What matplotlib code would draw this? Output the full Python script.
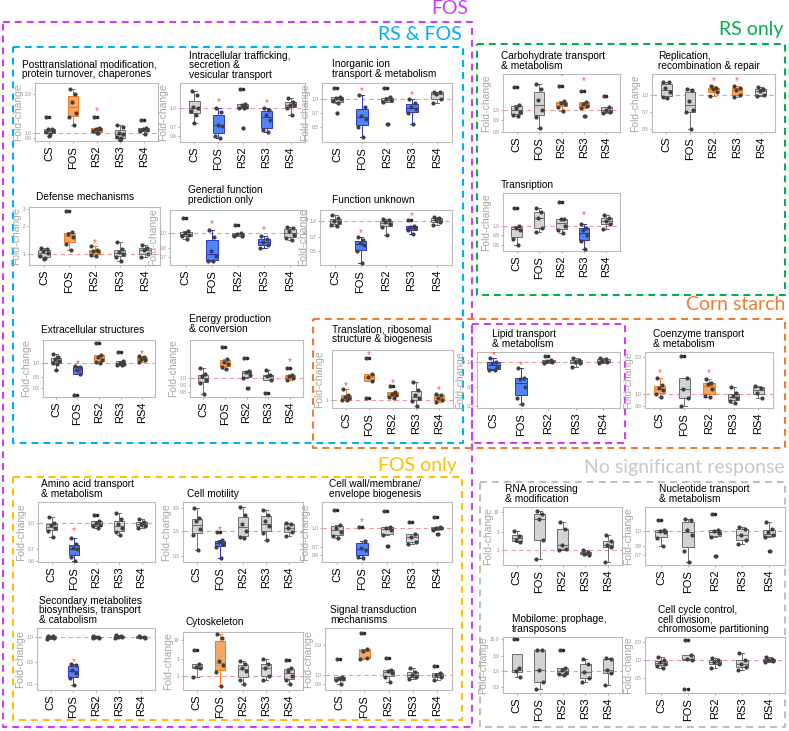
import matplotlib.pyplot as plt
from matplotlib.ticker import NullLocator

plt.rcParams['font.family'] = ['Liberation Sans', 'DejaVu Sans']

W, H = 789, 731
groups = ["CS", "FOS", "RS2", "RS3", "RS4"]

# fold-change per group, order: CS, FOS, RS2, RS3, RS4
posttrans = [[1.32, 1.07, 1.06, 1.04, 1.02, 0.98, 0.94], [2.22, 2.0, 1.75, 1.44, 1.32, 1.14],
             [1.34, 1.09, 1.07, 1.06, 1.03, 1.0, 0.99], [1.14, 1.10, 1.0, 0.97, 0.93, 0.90, 0.88],
             [1.25, 1.09, 1.07, 1.05, 1.03, 0.98]]
intracellular = [[1.35, 1.26, 1.02, 1.0, 0.95, 0.87, 0.76], [1.0, 0.92, 0.73, 0.72, 0.60, 0.58],
                 [1.42, 1.08, 1.05, 1.02, 1.0, 0.99, 0.69], [0.99, 0.96, 0.88, 0.80, 0.66, 0.645],
                 [1.19, 1.12, 1.06, 1.05, 0.99, 0.87]]
inorganic = [[1.31, 1.06, 1.03, 0.99, 0.96, 0.91, 0.70], [1.1, 0.81, 0.66, 0.60, 0.5, 0.39],
             [1.31, 1.04, 1.0, 0.97, 0.92, 0.54], [1.0, 0.9, 0.82, 0.77, 0.70, 0.54],
             [1.2, 1.18, 1.12, 1.0, 0.9]]
defense = [[1.15, 1.12, 1.07, 1.02, 0.95, 0.9, 0.88], [2.85, 1.7, 1.62, 1.5, 1.27, 1.1],
           [1.2, 1.09, 1.08, 1.07, 0.97, 0.96], [1.35, 1.13, 1.05, 1.0, 0.92, 0.83],
           [1.25, 1.15, 1.1, 1.0, 0.92]]
general = [[1.25, 1.03, 1.0, 0.97, 0.95, 0.91], [1.04, 0.94, 0.76, 0.71, 0.66, 0.655],
           [1.13, 1.0, 0.98, 0.96, 0.95], [0.95, 0.91, 0.88, 0.84, 0.8],
           [1.1, 1.07, 1.03, 0.97, 0.93, 0.9]]
unknown = [[1.17, 1.08, 1.02, 0.98, 0.92, 0.9], [0.69, 0.65, 0.6, 0.57, 0.5, 0.38],
           [1.06, 1.03, 0.98, 0.94, 0.88, 0.73], [1.03, 0.9, 0.87, 0.85, 0.82, 0.74],
           [1.1, 1.08, 1.04, 0.98, 0.93]]
extracellular = [[1.49, 1.33, 1.2, 1.1, 1.0, 0.94, 0.71], [0.85, 0.8, 0.7, 0.58, 0.22],
                 [2.5, 1.45, 1.3, 1.15, 1.05, 0.97], [1.69, 1.1, 1.0, 0.95, 0.9, 0.88],
                 [1.35, 1.3, 1.2, 1.12, 1.05]]
energy = [[1.17, 1.07, 1.03, 0.97, 0.93, 0.78], [1.65, 1.36, 1.3, 1.25, 1.2, 1.15],
          [1.37, 1.12, 1.1, 1.06, 1.01, 0.855], [1.14, 1.05, 1.03, 0.98, 0.79],
          [1.17, 1.06, 1.03, 1.0, 0.98]]
translation = [[1.36, 1.17, 1.1, 1.05, 1.0, 1.0], [3.25, 2.1, 1.9, 1.7, 1.05],
               [1.47, 1.27, 1.2, 1.15, 1.1, 1.05], [1.65, 1.33, 1.15, 1.05, 0.98, 0.85],
               [1.2, 1.15, 1.07, 1.0, 0.95]]
carbohydrate = [[1.25, 1.05, 1.02, 0.98, 0.95, 0.94], [1.29, 1.23, 1.1, 1.0, 0.93, 0.83],
                [1.27, 1.09, 1.07, 1.06, 1.03, 0.99], [1.21, 1.08, 1.06, 1.04, 1.02, 0.94],
                [1.15, 1.03, 1.0, 0.98, 0.97]]
replication = [[1.3, 1.28, 1.15, 1.05, 0.96, 0.94], [1.12, 1.11, 0.88, 0.73, 0.70, 0.5],
               [1.19, 1.15, 1.12, 1.05, 0.98], [1.2, 1.15, 1.1, 1.0, 0.96],
               [1.16, 1.12, 1.08, 1.0, 0.98]]
transcription = [[1.23, 1.0, 0.98, 0.96, 0.86, 0.8], [1.23, 1.18, 1.1, 0.98, 0.93],
                 [1.32, 1.09, 1.08, 1.0, 0.95, 0.92], [1.03, 0.98, 0.95, 0.9, 0.84, 0.77],
                 [1.14, 1.1, 1.06, 1.02, 0.97]]
lipid = [[1.1, 1.0, 0.97, 0.88, 0.8, 0.79], [0.84, 0.64, 0.62, 0.5, 0.37, 0.32],
         [1.17, 1.05, 1.02, 0.99, 0.97], [1.1, 1.05, 1.0, 0.97, 0.87],
         [1.1, 1.07, 1.03, 1.0, 0.97]]
coenzyme = [[1.34, 1.18, 1.12, 1.08, 1.0, 0.95], [2.03, 1.34, 1.1, 0.93, 0.8],
            [1.33, 1.23, 1.2, 1.1, 0.96, 0.94], [1.14, 1.01, 0.96, 0.92, 0.88, 0.84],
            [1.16, 1.12, 1.02, 0.92]]
amino_acid = [[1.08, 1.0, 0.97, 0.93, 0.9, 0.83], [0.82, 0.75, 0.71, 0.7, 0.63, 0.6],
              [1.11, 1.03, 1.0, 0.98, 0.96, 0.93], [1.14, 1.05, 0.99, 0.94, 0.89, 0.85],
              [1.06, 1.02, 0.99, 0.96, 0.93]]
motility = [[3.0, 1.9, 1.6, 1.1, 0.85, 0.41], [0.97, 0.65, 0.58, 0.55, 0.46, 0.27],
            [3.15, 2.2, 1.4, 1.0, 0.75, 0.73], [2.75, 2.2, 1.6, 1.3, 0.92, 0.65],
            [1.5, 1.4, 1.15, 0.97, 0.8]]
cell_wall = [[1.43, 1.06, 1.0, 0.93, 0.86, 0.84], [1.02, 0.79, 0.69, 0.66, 0.58, 0.575],
             [1.38, 1.03, 1.0, 0.97, 0.88, 0.72], [1.12, 0.9, 0.85, 0.77, 0.75],
             [1.24, 1.03, 1.01, 1.0, 0.98, 0.9]]
secondary = [[1.1, 1.05, 1.0, 0.97, 0.93], [0.27, 0.25, 0.2, 0.17, 0.13, 0.094],
             [1.06, 1.02, 1.0, 0.98, 0.95], [1.15, 1.1, 1.03, 1.0, 0.95],
             [1.08, 1.04, 1.0, 0.97]]
cytoskeleton = [[5.2, 2.1, 1.8, 1.6, 0.9], [15.0, 11.6, 2.6, 2.0, 1.3, 0.52],
                [2.6, 2.2, 1.65, 1.4, 0.75, 0.59], [2.85, 2.2, 1.6, 1.0, 0.75],
                [2.75, 1.6, 1.4, 1.0, 0.76, 0.59]]
signal = [[1.45, 0.96, 0.93, 0.9, 0.88, 0.8], [2.67, 1.82, 1.75, 1.5, 1.45],
          [1.48, 1.12, 1.1, 1.05, 0.95, 0.85], [1.17, 1.08, 1.0, 0.95, 0.9],
          [1.24, 1.04, 1.0, 0.95, 0.88]]
rna = [[3.2, 2.3, 1.8, 1.6], [10.5, 9.0, 6.5, 1.8, 0.58], [5.4, 3.5, 1.4, 1.1, 1.0],
       [1.02, 0.88, 0.8, 0.77], [2.45, 1.7, 1.4, 1.2, 0.5]]
nucleotide = [[1.19, 1.02, 1.0, 0.98, 0.9, 0.8], [1.21, 1.18, 1.02, 0.94, 0.74, 0.63],
              [1.29, 1.02, 1.0, 0.97, 0.91, 0.69], [1.07, 1.03, 0.95, 0.87, 0.83],
              [1.14, 1.03, 0.98, 0.95, 0.92, 0.74]]
mobilome = [[10.0, 1.2, 1.0, 0.66], [4.6, 4.5, 1.07, 0.46, 0.26], [4.5, 1.25, 1.1, 0.85, 0.8, 0.75],
            [2.3, 1.6, 0.9, 0.6, 0.45], [2.6, 2.4, 1.05, 0.85, 0.37]]
cell_cycle = [[1.15, 1.0, 0.95, 0.88, 0.8, 0.75], [2.18, 1.22, 1.05, 1.0, 0.33],
              [1.1, 1.0, 0.95, 0.85, 0.75], [1.34, 1.0, 0.88, 0.76, 0.68],
              [1.15, 1.05, 1.0, 0.98, 0.95]]

# response per group: g = none, o = increased, b = decreased (significant -> star)
# (title, data, response, y tick labels, ylim, axes box px l,t,r,b, title left/bottom px)
panels = [
    ("Posttranslational modification,\nprotein turnover, chaperones", posttrans, "googg",
     ["0.9", "1.0", "2.0"], (0.86, 2.46), (35, 83, 158, 141), (22, 79)),
    ("Intracellular trafficking,\nsecretion &\nvesicular transport", intracellular, "gbgbg",
     ["0.6", "0.7", "1.0"], (0.535, 1.57), (180, 83, 305, 142), (189, 81)),
    ("Inorganic ion\ntransport & metabolism", inorganic, "gbgbg",
     ["0.5", "0.7", "1.0"], (0.34, 1.49), (322, 83, 452, 142), (332, 79)),
    ("Defense mechanisms", defense, "googg",
     ["1", "2", "3"], (0.76, 3.18), (29, 207, 160, 265), (36, 202)),
    ("General function\nprediction only", general, "gbgbg",
     ["0.7", "0.8", "1.0"], (0.62, 1.41), (170, 210, 306, 265), (188, 205)),
    ("Function unknown", unknown, "gbgbg",
     ["0.5", "0.7", "1.0"], (0.36, 1.31), (320, 210, 452, 265), (332, 205)),
    ("Extracellular structures", extracellular, "gbogo",
     ["0.3", "0.5", "1.0"], (0.196, 2.94), (43, 340, 155, 397), (41, 335)),
    ("Energy production\n& conversion", energy, "goggo",
     ["0.8", "0.9", "1.0"], (0.745, 1.83), (190, 340, 303, 397), (189, 334)),
    ("Translation, ribosomal\nstructure & biogenesis", translation, "ooogo",
     ["1"], (0.8, 4.1), (332, 350, 453, 408), (332, 344)),
    ("Carbohydrate transport\n& metabolism", carbohydrate, "ggoog",
     ["0.8", "0.9", "1.0"], (0.805, 1.43), (503, 74, 620, 132), (501, 73)),
    ("Replication,\nrecombination & repair", replication, "ggoog",
     ["0.5", "0.7", "1.0"], (0.47, 1.52), (652, 74, 775, 132), (658, 73)),
    ("Transription", transcription, "gggbg",
     ["0.8", "0.9", "1.0"], (0.748, 1.47), (503, 193, 620, 251), (501, 193)),
    ("Lipid transport\n& metabolism", lipid, "bbggg",
     ["0.3", "0.5", "1.0"], (0.283, 1.31), (477, 352, 620, 408), (492, 352)),
    ("Coenzyme transport\n& metabolism", coenzyme, "ogogg",
     ["0.8", "1.0", "2.0"], (0.767, 2.19), (645, 352, 773, 408), (653, 352)),
    ("Amino acid transport\n& metabolism", amino_acid, "gbggg",
     ["0.6", "0.7", "1.0"], (0.59, 1.33), (38, 502, 155, 562), (41, 502)),
    ("Cell motility", motility, "gbggg",
     ["0.3", "1.0", "3.0"], (0.226, 4.1), (183, 502, 303, 562), (187, 499)),
    ("Cell wall/membrane/\nenvelope biogenesis", cell_wall, "gbggg",
     ["0.6", "0.7", "1.0"], (0.53, 1.65), (322, 502, 452, 562), (329, 502)),
    ("Secondary metabolites\nbiosynthesis, transport\n& catabolism", secondary, "gbggg",
     ["0.1", "0.3", "1.0"], (0.073, 1.6), (37, 628, 155, 690), (39, 627)),
    ("Cytoskeleton", cytoskeleton, "goggg",
     ["1", "3", "10"], (0.4, 16.7), (183, 632, 303, 690), (186, 627)),
    ("Signal transduction\nmechanisms", signal, "goggg",
     ["0.8", "1.0", "2.0"], (0.7, 3.0), (325, 628, 452, 690), (330, 629)),
    ("RNA processing\n& modification", rna, "ggggg",
     ["1", "3", "10"], (0.41, 13.4), (503, 507, 622, 565), (505, 509)),
    ("Nucleotide transport\n& metabolism", nucleotide, "ggggg",
     ["0.7", "0.8", "1.0"], (0.6, 1.44), (645, 507, 785, 565), (659, 509)),
    ("Mobilome: prophage,\ntransposons", mobilome, "ggggg",
     ["0.3", "1.0", "3.0", "10.0"], (0.2, 11.8), (503, 637, 622, 693), (512, 634)),
    ("Cell cycle control,\ncell division,\nchromosome partitioning", cell_cycle, "ggggg",
     ["0.5", "1.0", "2.0"], (0.28, 2.47), (645, 637, 785, 693), (658, 635)),
]

fills = {"g": "#D3D3D3", "o": "#F9A560", "b": "#4F83FF"}
edges = {"g": "#6E6E6E", "o": "#F07A1E", "b": "#3535C8"}
jitter = [-0.12, 0.10, -0.04, 0.14, -0.15, 0.05, 0.0, -0.08]

fig = plt.figure(figsize=(W / 100, H / 100), dpi=100)

# group outlines drawn in pixel space
ov = fig.add_axes([0, 0, 1, 1])
ov.set_xlim(0, W)
ov.set_ylim(H, 0)
ov.axis('off')


def dashed(xs, ys, color):
    ov.plot(xs, ys, color=color, lw=1.5, ls=(0, (3.3, 2.4)), solid_capstyle='butt')


def rect(l, t, r, b, color):
    dashed([l, r, r, l, l], [t, t, b, b, t], color)


rect(3, 22, 472, 727, "#D03CF5")
rect(472, 324, 625, 443, "#D03CF5")
rect(13, 47, 463, 443, "#00B0F0")
rect(477, 44, 785, 295, "#00B050")
rect(313, 319, 785, 448, "#ED7D31")
rect(13, 477, 462, 720, "#FFC000")
rect(480, 482, 785, 727, "#BFBFBF")

labels = [("FOS", 468, 9, "#D03CF5"), ("RS & FOS", 462, 35, "#00B0F0"),
          ("RS only", 783, 30, "#00B050"), ("Corn starch", 785, 305, "#ED7D31"),
          ("FOS only", 457, 466, "#FFC000"), ("No significant response", 785, 467, "#C8C8C8")]
for txt, x, y, c in labels:
    ov.text(x, y, txt, color=c, fontsize=14, ha='right', va='center', family=['Lato', 'DejaVu Sans'])


def draw_panel(title, data, resp, ticks, ylim, box, tpos):
    l, t, r, b = box
    ax = fig.add_axes([l / W, 1 - b / H, (r - l) / W, (b - t) / H])
    ax.set_yscale('log')
    ax.axhline(1.0, color='#F08080', lw=0.8, ls=(0, (4, 3)), alpha=0.8, zorder=1)
    for i, (vals, code) in enumerate(zip(data, resp)):
        pos = i + 1
        ax.boxplot(vals, positions=[pos], widths=0.45, patch_artist=True, capwidths=0.18,
                   boxprops=dict(facecolor=fills[code], edgecolor=edges[code], lw=0.7),
                   medianprops=dict(color=edges[code], lw=0.8),
                   whiskerprops=dict(color=edges[code], lw=0.7),
                   capprops=dict(color=edges[code], lw=0.7),
                   flierprops=dict(marker='o', markersize=2.6, markerfacecolor='#222222',
                                   markeredgecolor='none'), zorder=2)
        xs = [pos + jitter[k % len(jitter)] for k in range(len(vals))]
        ax.scatter(xs, vals, s=9, color='#404040', zorder=4, linewidths=0)
        if code != "g":
            ax.text(pos, max(vals) * 1.1, '*', color='#FF5050', ha='center', va='center',
                    fontsize=7, clip_on=True, zorder=5)
    ax.set_xlim(0.4, 5.6)
    ax.set_ylim(*ylim)
    ax.set_yticks([float(s) for s in ticks])
    ax.set_yticklabels(ticks)
    ax.yaxis.set_minor_locator(NullLocator())
    ax.set_xticks(range(1, 6))
    ax.set_xticklabels(groups, rotation=90, fontsize=8)
    ax.tick_params(axis='y', labelsize=3.5, colors='#8A8A8A', length=1.5, width=0.5, pad=1)
    ax.tick_params(axis='x', length=1.5, width=0.5, color='#8A8A8A', pad=2, labelcolor='black')
    ax.set_ylabel('Fold-change', fontsize=7.5, color='#A6A6A6', labelpad=1)
    for s in ax.spines.values():
        s.set_color('#BBBBBB')
        s.set_linewidth(0.8)
    tb = min(tpos[1], t - 3)
    fig.text(tpos[0] / W, 1 - tb / H, title, fontsize=7.3, ha='left', va='bottom',
             linespacing=0.95)


for p in panels:
    draw_panel(*p)

fig.savefig('out.png', dpi=100)
